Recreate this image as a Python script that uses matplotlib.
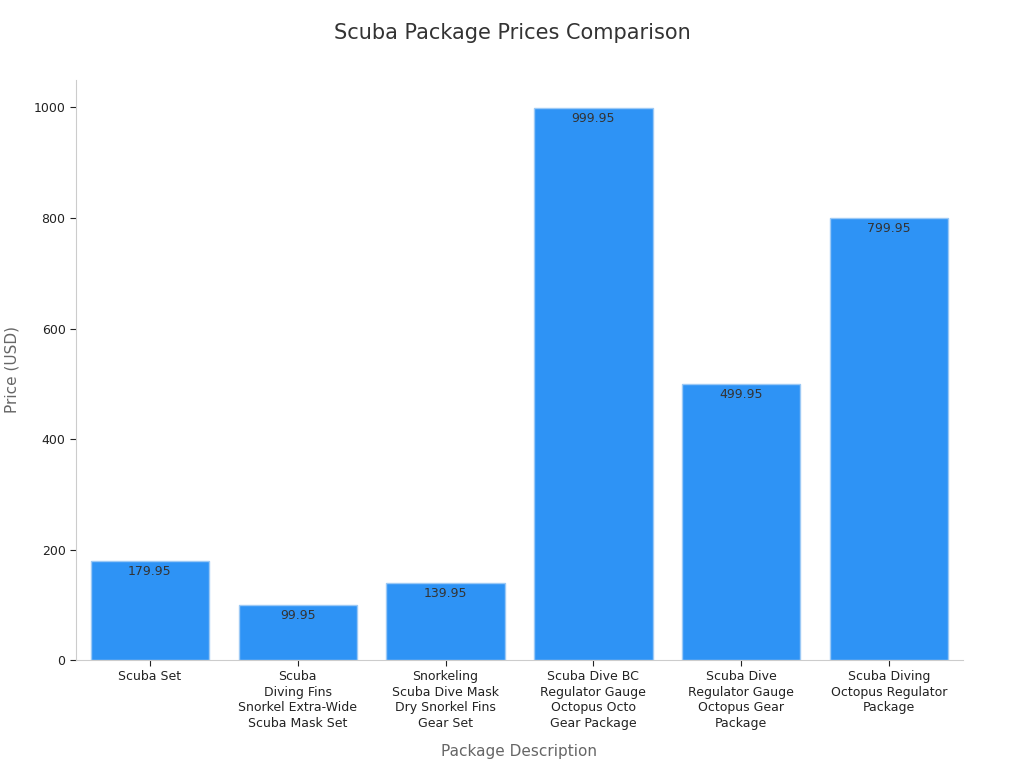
import matplotlib
matplotlib.use("Agg")
import matplotlib.pyplot as plt

categories = ["Scuba Set", "Scuba\nDiving Fins\nSnorkel Extra-Wide\nScuba Mask Set",
              "Snorkeling\nScuba Dive Mask\nDry Snorkel Fins\nGear Set",
              "Scuba Dive BC\nRegulator Gauge\nOctopus Octo\nGear Package",
              "Scuba Dive\nRegulator Gauge\nOctopus Gear\nPackage",
              "Scuba Diving\nOctopus Regulator\nPackage"]
prices = [179.95, 99.95, 139.95, 999.95, 499.95, 799.95]

fig = plt.figure(figsize=(10.24, 7.68), dpi=100)
ax = fig.add_axes([0.0742, 0.1406, 0.8662, 0.7554])
x = range(len(categories))
ax.bar(x, prices, width=0.8, color="#2E93F5", edgecolor="#9CC9F5", linewidth=1)
for xi, p in zip(x, prices):
    ax.text(xi, p - 8, f"{p:.2f}", ha="center", va="top", fontsize=9, color="#333333")
ax.set_xlim(-0.5, 5.5)
ax.set_ylim(0, 1050)
ax.set_yticks([0, 200, 400, 600, 800, 1000])
ax.set_xticks(list(x))
ax.set_xticklabels(categories, fontsize=9, color="#222222", linespacing=1.25)
ax.tick_params(axis="y", labelsize=9, colors="#222222")
ax.tick_params(colors="#222222", length=4)
for s in ["top", "right"]:
    ax.spines[s].set_visible(False)
for s in ["left", "bottom"]:
    ax.spines[s].set_color("#CCCCCC")
ax.set_xlabel("Package Description", fontsize=11, color="#666666", labelpad=10)
ax.set_ylabel("Price (USD)", fontsize=11, color="#666666", labelpad=10)
fig.suptitle("Scuba Package Prices Comparison", fontsize=15, color="#333333", y=0.97)
fig.savefig("out.png", dpi=100)
